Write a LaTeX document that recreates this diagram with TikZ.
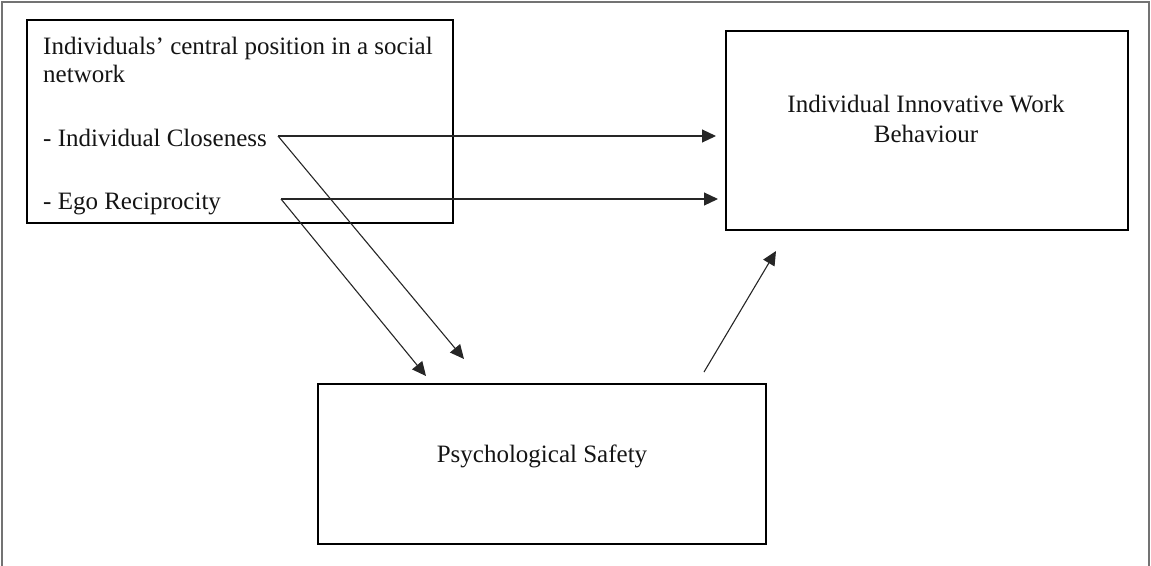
\documentclass[tikz,border=0pt]{standalone}
\usepackage{fontspec}
\setmainfont{Liberation Serif}
\usetikzlibrary{arrows.meta}
\begin{document}
\begin{tikzpicture}[x=1pt,y=-1pt,
  box/.style={draw=black,line width=2.3pt,minimum width=#1,inner sep=0pt},
  lbl/.style={inner sep=0pt,font=\fontsize{25}{30}\selectfont,text=black!92},
  conn/.style={draw=black!85,line width=1.1pt,-{Triangle[length=14pt,width=13pt]}},
  frame/.style={draw=black!55,line width=2pt}]
\useasboundingbox (0,0) rectangle (1151,565);
\draw[frame] (1.5,566) -- (1.5,1.5) -- (1149,1.5) -- (1149,566);
% boxes
\node[box=426pt,minimum height=203pt] (net) at (240,121.5) {};
\node[box=402pt,minimum height=199pt] (iiwb) at (927,130.5) {};
\node[box=448pt,minimum height=160pt] (psy) at (542,464) {};
% texts
\node[lbl,anchor=base west] (t1) at (43,54) {Individuals’ central position in a social};
\node[lbl,anchor=base west] (t2) at (43,82) {network};
\node[lbl,anchor=base west] (clos) at (43,146) {- Individual Closeness};
\node[lbl,anchor=base west] (ego) at (43,209) {- Ego Reciprocity};
\node[lbl,anchor=base] (i1) at (926,112) {Individual Innovative Work};
\node[lbl,anchor=base] (i2) at (926,142) {Behaviour};
\node[lbl,anchor=base] (ps) at (542,462) {Psychological Safety};
% connector ends
\coordinate (closout) at (278,136);
\coordinate (egoout) at (281,199);
\coordinate (iiwbin1) at (716,136);
\coordinate (iiwbin2) at (718,199);
\coordinate (psyin1) at (464,359);
\coordinate (psyin2) at (426,376);
\coordinate (psyout) at (704,372);
\coordinate (iiwbin3) at (776,251);
% connectors
\draw[conn] (closout) -- (iiwbin1);
\draw[conn] (egoout) -- (iiwbin2);
\draw[conn] (closout) -- (psyin1);
\draw[conn] (egoout) -- (psyin2);
\draw[conn] (psyout) -- (iiwbin3);
\end{tikzpicture}
\end{document}
